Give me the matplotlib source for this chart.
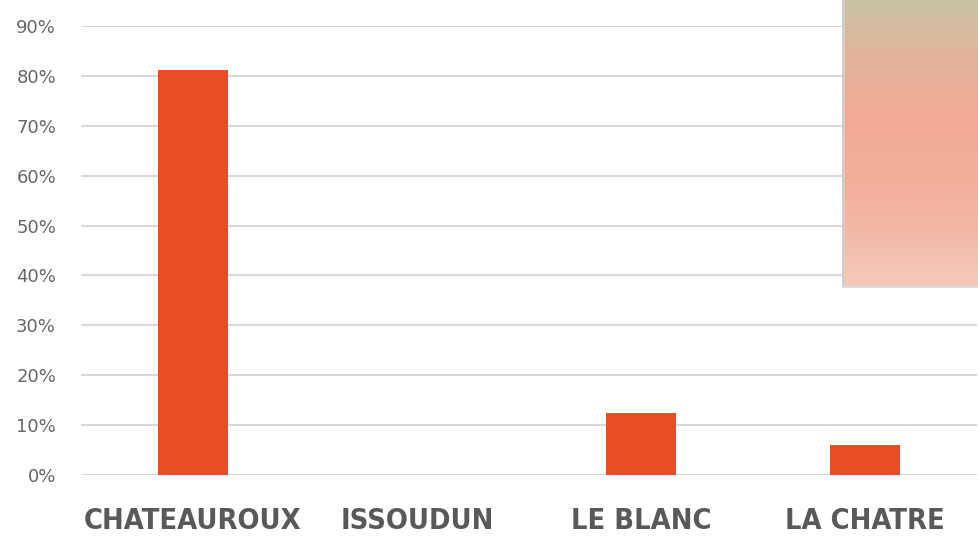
import numpy as np
import matplotlib
matplotlib.use("Agg")
import matplotlib.pyplot as plt
from matplotlib.colors import LinearSegmentedColormap

# données
villes = ["CHATEAUROUX", "ISSOUDUN", "LE BLANC", "LA CHATRE"]
parts = [0.812, 0.0, 0.124, 0.060]
graduations = [0.0, 0.1, 0.2, 0.3, 0.4, 0.5, 0.6, 0.7, 0.8, 0.9]

fig = plt.figure(figsize=(9.79, 5.36), dpi=100)
ax = fig.add_axes([81 / 979, 1 - 475 / 536, 896 / 979, (475 - 26) / 536])

x = np.arange(len(villes))
ax.bar(x, parts, width=0.3125, color="#E84E24", zorder=3)

ax.set_xlim(-0.5, len(villes) - 0.5)
ax.set_ylim(0, 0.9)
ax.set_yticks(graduations)
ax.set_yticklabels(["%d%%" % round(v * 100) for v in graduations])
ax.yaxis.grid(True, color="#d9d9d9", linewidth=1.5, zorder=0)
ax.set_axisbelow(True)
for s in ax.spines.values():
    s.set_visible(False)
ax.tick_params(axis="y", length=0, labelsize=13, labelcolor="#666666", pad=18)
ax.tick_params(axis="x", length=0, pad=23)
ax.set_xticks(x)
ax.set_xticklabels(villes, fontsize=20.8, fontweight="bold", color="#595959",
                   fontstretch="condensed", family="DejaVu Sans")

# rectangle dégradé en haut à droite
cmap = LinearSegmentedColormap.from_list(
    "deg", ["#c9c3a2", "#e3b39a", "#f2aa96", "#f3ad98", "#f3b8a6", "#f5cabd"])
grad = np.linspace(0, 1, 256).reshape(-1, 1)
gax = fig.add_axes([842 / 979, 1 - 288 / 536, 137 / 979, 288 / 536])
gax.imshow(grad, aspect="auto", cmap=cmap, extent=[0, 1, 1, 0])
gax.axvline(0.005, color="#cfcfcf", linewidth=2)
gax.axhline(0.995, color="#dddddd", linewidth=2)
gax.set_axis_off()

fig.savefig("out.png", dpi=100)
